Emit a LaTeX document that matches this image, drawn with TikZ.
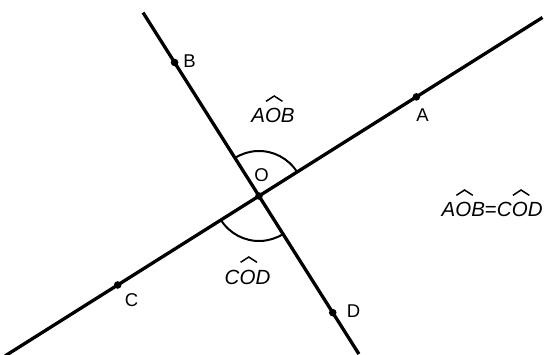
\documentclass[tikz,border=0pt]{standalone}
\usepackage{fontspec}
\setmainfont{Liberation Sans}
\usetikzlibrary{calc}
% letter with a detached hat above it
\newcommand{\hatlet}[1]{\setbox0\hbox{\textit{#1}}\rlap{\copy0}\makebox[\wd0]{\hspace{0.12em}\raisebox{1.02em}{\tikz\draw[line width=1.5pt, line join=miter] (0,0)--(0.4em,0.26em)--(0.8em,0);}}}
\newcommand{\ang}[3]{\textit{#1}\hatlet{#2}\textit{#3}}

\begin{document}
\begin{tikzpicture}[
    x=1pt, y=1pt,
    every node/.style={font=\fontsize{18.5}{22}\selectfont, anchor=base, inner sep=0pt},
    anglelabel/.style={font=\fontsize{20.5}{24}\selectfont},
    line/.style={line width=3.3pt},
    anglemark/.style={line width=2pt},
    pt/.style={fill=black},
]
\useasboundingbox (0,0) rectangle (544,354);
% two lines crossing at O, directions 32.2 and 122.3 degrees
\coordinate (O) at (259,158);
\coordinate (A) at ($(O)+(32.2:186)$);
\coordinate (C) at ($(O)+(212.2:167)$);
\coordinate (B) at ($(O)+(122.3:158)$);
\coordinate (D) at ($(O)+(-57.7:138)$);
\coordinate (endA) at ($(O)+(32.2:335)$);
\coordinate (endC) at ($(O)+(212.2:300)$);
\coordinate (endB) at ($(O)+(122.3:217)$);
\coordinate (endD) at ($(O)+(-57.7:187)$);
\draw[line] (endC) -- (endA);
\draw[line] (endB) -- (endD);
% angle marks
\draw[anglemark] ($(O)+(32.2:45)$) arc[start angle=32.2, end angle=122.3, radius=45];
\draw[anglemark] ($(O)+(212.2:45)$) arc[start angle=212.2, end angle=302.3, radius=45];
% points
\foreach \p in {O,A,B,C,D}
    \fill[pt] (\p) circle (3.8pt);
\node (lO) at (261.5,172) {O};
\node (lA) at (422.5,232) {A};
\node (lB) at (189.5,286) {B};
\node (lC) at (131.5,48) {C};
\node (lD) at (353.5,37) {D};
\node[anglelabel] (aob) at (273,231) {\ang{A}{O}{B}};
\node[anglelabel] (cod) at (247.5,70) {\ang{C}{O}{D}};
\node[anglelabel, anchor=base west] (eq) at (441.5,137) {\ang{A}{O}{B}=\ang{C}{O}{D}};
\end{tikzpicture}
\end{document}
